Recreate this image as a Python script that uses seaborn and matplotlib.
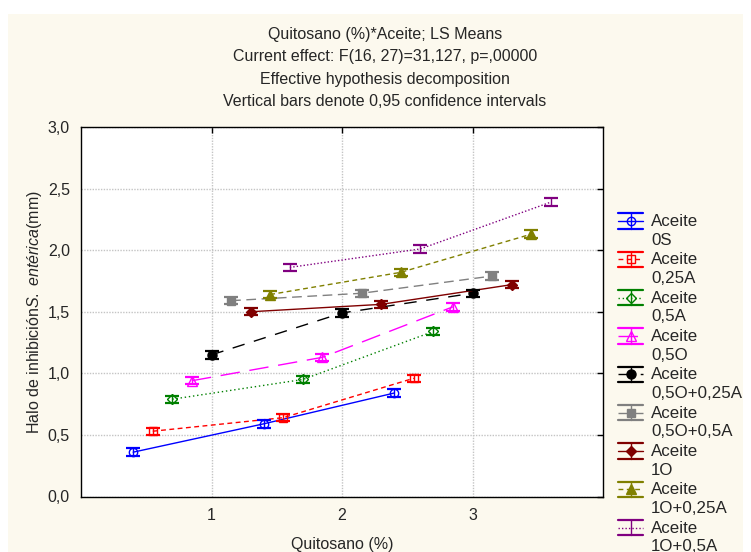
import numpy as np
import pandas as pd
import matplotlib
matplotlib.use("Agg")
import matplotlib.pyplot as plt
import seaborn as sns
from matplotlib.legend_handler import HandlerBase
from matplotlib.lines import Line2D
from matplotlib.patches import Rectangle

# ---------------- data ----------------
quitosano = [1, 2, 3]
aceite = ["0S", "0,25A", "0,5A", "0,5O", "0,5O+0,25A",
          "0,5O+0,5A", "1O", "1O+0,25A", "1O+0,5A"]

mean_0S = [0.36, 0.59, 0.84]
mean_025A = [0.53, 0.64, 0.96]
mean_05A = [0.79, 0.95, 1.34]
mean_05O = [0.94, 1.13, 1.54]
mean_05O_025A = [1.15, 1.49, 1.65]
mean_05O_05A = [1.59, 1.65, 1.79]
mean_1O = [1.50, 1.56, 1.72]
mean_1O_025A = [1.64, 1.82, 2.13]
mean_1O_05A = [1.86, 2.01, 2.39]

ci_0S = [0.03, 0.03, 0.03]
ci_025A = [0.03, 0.03, 0.03]
ci_05A = [0.03, 0.03, 0.03]
ci_05O = [0.03, 0.03, 0.03]
ci_05O_025A = [0.03, 0.03, 0.03]
ci_05O_05A = [0.03, 0.03, 0.03]
ci_1O = [0.03, 0.03, 0.03]
ci_1O_025A = [0.03, 0.03, 0.03]
ci_1O_05A = [0.03, 0.03, 0.03]

y_ticks = [0.0, 0.5, 1.0, 1.5, 2.0, 2.5, 3.0]
y_tick_labels = ["0,0", "0,5", "1,0", "1,5", "2,0", "2,5", "3,0"]
x_ticks = [1, 2, 3]
x_tick_labels = ["1", "2", "3"]

title_lines = ["Quitosano (%)*Aceite; LS Means",
               "Current effect: F(16, 27)=31,127, p=,00000",
               "Effective hypothesis decomposition",
               "Vertical bars denote 0,95 confidence intervals"]

means = [mean_0S, mean_025A, mean_05A, mean_05O, mean_05O_025A,
         mean_05O_05A, mean_1O, mean_1O_025A, mean_1O_05A]
cis = [ci_0S, ci_025A, ci_05A, ci_05O, ci_05O_025A,
       ci_05O_05A, ci_1O, ci_1O_025A, ci_1O_05A]

rows = []
for i, a in enumerate(aceite):
    for j, q in enumerate(quitosano):
        rows.append({"Quitosano": q, "Aceite": a, "idx": i,
                     "mean": means[i][j], "ci": cis[i][j]})
df = pd.DataFrame(rows)
# dodge the series around each Quitosano level
n = len(aceite)
df["xpos"] = df["Quitosano"] + (df["idx"] - (n - 1) / 2) * 0.15

# ---------------- styles ----------------
styles = {
    "0S":         dict(color="#0000FF", ls="-",              marker="o", mfc="none", ms=6),
    "0,25A":      dict(color="#FF0000", ls=(0, (3.5, 2.5)),  marker="s", mfc="none", ms=5.5),
    "0,5A":       dict(color="#008000", ls=(0, (1, 2)),      marker="D", mfc="none", ms=5),
    "0,5O":       dict(color="#FF00FF", ls=(0, (14, 7)),     marker="^", mfc="none", ms=6.5),
    "0,5O+0,25A": dict(color="#000000", ls=(0, (9, 7)),      marker="o", mfc=None,   ms=6.5),
    "0,5O+0,5A":  dict(color="#808080", ls=(0, (7, 4)),      marker="s", mfc=None,   ms=6),
    "1O":         dict(color="#800000", ls="-",              marker="D", mfc=None,   ms=5),
    "1O+0,25A":   dict(color="#808000", ls=(0, (3.5, 2.5)),  marker="^", mfc=None,   ms=6.5),
    "1O+0,5A":    dict(color="#800080", ls=(0, (1, 1.5)),    marker="",  mfc=None,   ms=0),
}

sns.set_style("white")
plt.rcParams["font.family"] = ["Liberation Sans", "DejaVu Sans"]
plt.rcParams["mathtext.fontset"] = "custom"
plt.rcParams["mathtext.rm"] = "Liberation Sans"
plt.rcParams["mathtext.it"] = "Liberation Sans:italic"

FS = 11.5
LFS = 12.2
cream = "#FCF9EE"

fig = plt.figure(figsize=(7.51, 5.52), dpi=100, facecolor="white")
fig.patches.append(Rectangle((8 / 751, 0), (743 - 8) / 751, (552 - 14) / 552,
                             transform=fig.transFigure, facecolor=cream,
                             edgecolor="none", zorder=-10))

ax = fig.add_axes([81 / 751, (552 - 496.5) / 552, (603 - 81) / 751, (496.5 - 127) / 552])
ax.set_facecolor("white")

for a in aceite:
    st = styles[a]
    sub = df[df["Aceite"] == a]
    kws = dict(color=st["color"], linestyle=st["ls"], linewidth=1.0)
    if st["marker"]:
        kws.update(marker=st["marker"], markersize=st["ms"],
                   markeredgecolor=st["color"], markeredgewidth=1.0,
                   markerfacecolor=st["mfc"] if st["mfc"] else st["color"])
    sns.lineplot(data=sub, x="xpos", y="mean", ax=ax, estimator=None,
                 sort=True, legend=False, zorder=3, **kws)
    ax.errorbar(sub["xpos"], sub["mean"], yerr=sub["ci"], fmt="none",
                ecolor=st["color"], elinewidth=1.0, capsize=5, capthick=1.6,
                zorder=4)

ax.set_xlim(0, 4)
ax.set_ylim(0, 3)
ax.set_xticks(x_ticks)
ax.set_xticklabels(x_tick_labels)
ax.set_yticks(y_ticks)
ax.set_yticklabels(y_tick_labels)
ax.tick_params(axis="both", direction="in", length=4, width=1, color="black",
               labelsize=FS, top=True, right=True, pad=8)
ax.grid(True, color="#C4C4C4", linestyle=(0, (1, 1)), linewidth=1.0)
ax.set_axisbelow(True)
for sp in ax.spines.values():
    sp.set_color("black")
    sp.set_linewidth(1.0)

ax.set_xlabel("Quitosano (%)", fontsize=FS, labelpad=10)
ax.set_ylabel(r"Halo de inhibición$\it{S.\ entérica}$(mm)", fontsize=FS, labelpad=2.5)

title_y = [35, 57, 79.5, 101]
for t, yp in zip(title_lines, title_y):
    fig.text(385 / 751, 1 - yp / 552, t, ha="center", va="center", fontsize=FS)


# ---------------- legend with STATISTICA-like handles ----------------
class StatHandler(HandlerBase):
    def __init__(self, st, shift):
        super().__init__()
        self.st = st
        self.shift = shift

    def create_artists(self, legend, orig_handle, xdescent, ydescent,
                       width, height, fontsize, trans):
        st = self.st
        x0, x1 = -xdescent, -xdescent + width
        xm = (x0 + x1) / 2
        yc = (height - ydescent) / 2 + self.shift
        e = 5.5
        arts = []
        arts.append(Line2D([x0, x1], [yc, yc], color=st["color"],
                           linestyle=st["ls"], linewidth=1.0))
        arts.append(Line2D([xm, xm], [yc - e, yc + e], color=st["color"], linewidth=1.0))
        arts.append(Line2D([x0, x1], [yc + e, yc + e], color=st["color"], linewidth=1.6))
        arts.append(Line2D([x0, x1], [yc - e, yc - e], color=st["color"], linewidth=1.6))
        if st["marker"]:
            arts.append(Line2D([xm], [yc], marker=st["marker"], markersize=st["ms"],
                               markeredgecolor=st["color"], markeredgewidth=1.0,
                               markerfacecolor=st["mfc"] if st["mfc"] else st["color"],
                               linestyle="none"))
        for art in arts:
            art.set_transform(trans)
        return arts


handles = [Line2D([], []) for _ in aceite]
labels = ["Aceite\n" + a for a in aceite]
hmap = {h: StatHandler(styles[a], 7.2) for h, a in zip(handles, aceite)}
leg = fig.legend(handles, labels, handler_map=hmap, loc="upper left",
                 bbox_to_anchor=(618 / 751, 1 - 214 / 552), frameon=False,
                 fontsize=LFS, handlelength=1.48, handletextpad=0.47,
                 labelspacing=0.28, borderpad=0, borderaxespad=0)
for t in leg.get_texts():
    t.set_linespacing(1.3)

fig.savefig("out.png", dpi=100, facecolor="white")
